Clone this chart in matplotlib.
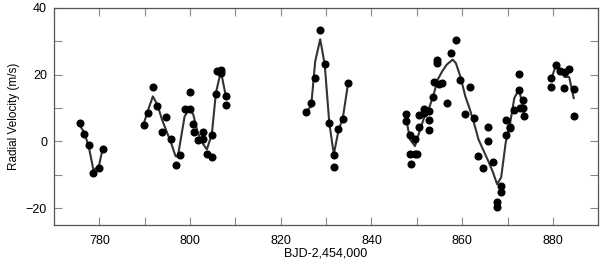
import numpy as np
import matplotlib
matplotlib.use("Agg")
import matplotlib.pyplot as plt
from matplotlib.ticker import MultipleLocator

plt.rcParams['font.family'] = ['Liberation Sans', 'DejaVu Sans']

# observed radial velocities (BJD-2,454,000, m/s)
t_obs = [775.7, 776.7, 777.7, 778.7, 779.9, 780.8,
         789.9, 790.8, 791.8, 792.8, 793.8, 794.8, 795.8, 796.8, 797.8, 798.8,
         799.9, 799.9, 800.7, 800.8, 801.8, 802.8, 802.8, 803.7, 804.8, 804.9,
         805.7, 805.9, 806.8, 806.8, 807.9, 807.9,
         825.6, 826.7, 827.6, 828.7, 829.7, 830.7, 831.7, 831.7, 832.7, 833.7, 834.8,
         847.7, 847.7, 848.5, 848.5, 848.8, 849.6, 849.6, 850.0, 850.5, 850.5,
         851.6, 851.6, 852.6, 852.6, 852.6, 853.5, 853.7, 854.5, 854.5, 854.8,
         855.6, 856.6, 857.6, 858.6, 859.6, 860.7, 861.7, 862.7, 863.6, 864.6,
         865.6, 865.6, 866.7, 867.7, 867.7, 868.6, 868.6, 869.6, 869.7, 870.5,
         870.6, 871.5, 872.5, 872.5, 872.8, 873.5, 873.5, 873.6,
         879.6, 879.6, 880.6, 881.6, 882.6, 882.5, 883.6, 884.6, 884.6]
rv_obs = [5.4, 2.1, -1.2, -9.5, -7.9, -2.3,
          5.0, 8.6, 16.3, 10.5, 2.8, 7.3, 0.8, -7.2, -4.1, 9.8,
          14.9, 9.8, 5.3, 2.9, 0.4, 2.8, 0.8, -3.9, -4.6, 1.8,
          14.3, 21.2, 21.5, 20.5, 13.7, 11.0,
          8.7, 11.4, 19.1, 33.3, 23.1, 5.4, -4.0, -7.6, 3.7, 6.6, 17.5,
          8.1, 6.2, 1.9, -3.7, -6.9, 0.8, -3.9, -3.9, 4.3, 7.8,
          9.8, 8.6, 9.1, 6.4, 3.3, 13.3, 17.9, 24.4, 23.4, 17.3,
          17.6, 11.5, 26.4, 30.3, 18.5, 8.1, 16.3, 7.0, -4.4, -8.1,
          4.3, 0.0, -6.2, -18.1, -19.5, -13.4, -15.3, 2.0, 6.3, 3.9,
          4.3, 9.3, 20.3, 15.3, 9.9, 12.3, 9.9, 7.5,
          19.0, 16.2, 22.8, 21.1, 20.8, 16.0, 21.7, 15.7, 7.6]

# model curve, one piece per observing run
model_t = [
    [775.7, 776.7, 777.7, 778.7, 779.9, 780.8],
    [789.9, 790.8, 791.8, 792.8, 793.8, 794.8, 795.8, 796.8, 797.3, 798.8,
     799.9, 800.7, 801.7, 802.8, 803.7, 804.8, 805.7, 806.8, 807.9],
    [825.6, 826.7, 827.6, 828.7, 829.7, 830.7, 831.7, 832.7, 833.7, 834.8],
    [847.7, 848.5, 849.6, 850.5, 851.6, 852.6, 853.6, 854.6, 855.6, 856.6,
     857.9, 858.6, 859.6, 860.7, 861.7, 862.7, 863.6, 864.6, 865.6, 866.7,
     867.7, 868.6, 869.6, 870.6, 871.5, 872.5, 872.8, 873.5, 873.6],
    [879.6, 880.6, 881.6, 882.6, 883.6, 884.6],
]
model_rv = [
    [4.8, 2.6, -1.8, -8.6, -7.4, -1.7],
    [5.8, 9.6, 13.5, 11.0, 6.6, 3.1, -0.4, -4.4, -4.6, 7.5,
     9.8, 8.1, 2.6, -0.6, -2.4, 2.1, 14.5, 21.0, 13.5],
    [9.0, 10.5, 24.0, 30.6, 23.0, 5.6, -3.9, 3.1, 7.1, 17.0],
    [6.6, 0.6, -1.4, 2.6, 7.1, 9.6, 13.5, 18.5, 21.0, 23.0,
     24.5, 23.5, 19.5, 13.5, 9.6, 5.1, 0.6, -2.4, -5.4, -8.9,
     -12.8, -10.8, -0.4, 5.6, 13.0, 15.5, 14.0, 9.6, 7.6],
    [18.5, 22.5, 21.0, 19.3, 19.3, 13.0],
]

fig = plt.figure(figsize=(6.0, 2.63), dpi=100)
ax = fig.add_axes([0.09, 0.145, 0.907, 0.825])

for mt, mr in zip(model_t, model_rv):
    ax.plot(mt, mr, color='#333333', lw=1.5, zorder=2)
ax.plot(t_obs, rv_obs, 'o', color='black', ms=4.8, zorder=3)

ax.set_xlim(770, 890)
ax.set_ylim(-25, 40)
ax.xaxis.set_major_locator(MultipleLocator(20))
ax.xaxis.set_minor_locator(MultipleLocator(10))
ax.yaxis.set_major_locator(MultipleLocator(20))
ax.yaxis.set_minor_locator(MultipleLocator(10))
ax.tick_params(which='both', direction='in', top=True, right=True,
               length=6, width=0.8, color='#888888', labelsize=9)
ax.tick_params(axis='x', pad=7)
ax.tick_params(axis='y', pad=5)
for s in ax.spines.values():
    s.set_color('#555555')
    s.set_linewidth(0.9)

ax.set_xlabel('BJD-2,454,000', fontsize=9, labelpad=1)
ax.set_ylabel('Radial Velocity (m/s)', fontsize=8.5, labelpad=4)

fig.savefig('out.png', dpi=100)
